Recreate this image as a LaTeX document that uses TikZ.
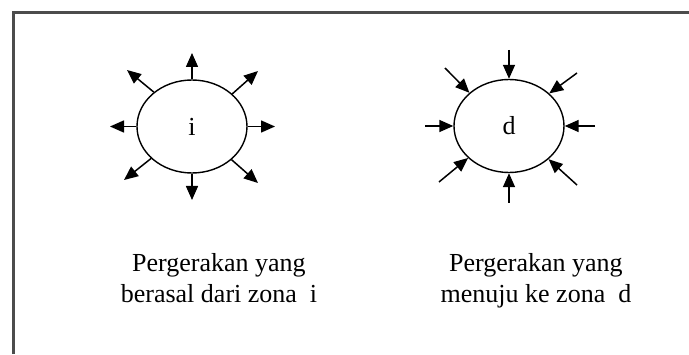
\documentclass[tikz,border=0pt]{standalone}
\usepackage{fontspec}
\setmainfont{Liberation Serif}
\usetikzlibrary{shapes.geometric,arrows.meta}
\tikzset{
  zone/.style={draw=black, line width=1.4pt, ellipse, inner sep=0pt,
               minimum width=110pt, minimum height=93pt,
               font=\fontsize{26}{30}\selectfont},
  flow/.style={line width=1.5pt, -{Triangle[length=14pt,width=12pt]}},
  caption/.style={anchor=base, inner sep=0pt, font=\fontsize{26}{30}\selectfont},
  frame/.style={draw=black!70, line width=3pt}
}
\begin{document}
\begin{tikzpicture}[x=1pt,y=1pt]
\useasboundingbox (0,0) rectangle (689,354);
% frame (open to the right and bottom edges)
\draw[frame] (13.5,0) -- (13.5,341.5) -- (689,341.5);

% zone i : outgoing movements
\node[zone] (i) at (192,227.5) {i};
\coordinate (iN)  at (192,301);
\coordinate (iS)  at (192,154);
\coordinate (iW)  at (110,227.5);
\coordinate (iE)  at (275,227.5);
\coordinate (iNE) at (258,283);
\coordinate (iNW) at (127,284);
\coordinate (iSW) at (124,174);
\coordinate (iSE) at (258,171);
\draw[flow] (i.north) -- (iN);
\draw[flow] (i.south) -- (iS);
\draw[flow] (i.west)  -- (iW);
\draw[flow] (i.east)  -- (iE);
\draw[flow] (i.39)  -- (iNE);
\draw[flow] (i.138) -- (iNW);
\draw[flow] (i.218) -- (iSW);
\draw[flow] (i.320) -- (iSE);

% zone d : incoming movements
\node[zone] (d) at (509,228) {d};
\coordinate (dN)  at (509,304);
\coordinate (dS)  at (509,151);
\coordinate (dW)  at (425,228);
\coordinate (dE)  at (595,228);
\coordinate (dNE) at (577,281);
\coordinate (dNW) at (445,286);
\coordinate (dSW) at (439,172);
\coordinate (dSE) at (577,169);
\draw[flow] (dN)  -- (d.north);
\draw[flow] (dS)  -- (d.south);
\draw[flow] (dW)  -- (d.west);
\draw[flow] (dE)  -- (d.east);
\draw[flow] (dNE) -- (d.39);
\draw[flow] (dNW) -- (d.140);
\draw[flow] (dSW) -- (d.218);
\draw[flow] (dSE) -- (d.320);

% captions
\node[caption] (c1a) at (219,82) {Pergerakan yang};
\node[caption] (c1b) at (219,52) {berasal dari zona~~i};
\node[caption] (c2a) at (536,82) {Pergerakan yang};
\node[caption] (c2b) at (536,52) {menuju ke zona~~d};
\end{tikzpicture}
\end{document}
